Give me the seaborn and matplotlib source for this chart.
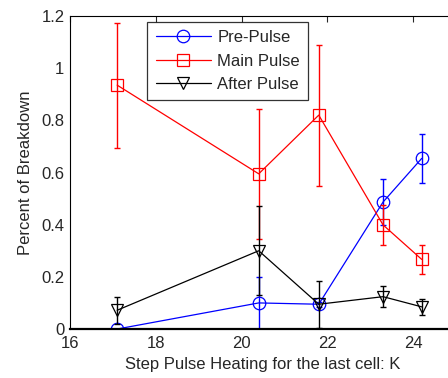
import numpy as np
import pandas as pd
import matplotlib
matplotlib.use("Agg")
import matplotlib.pyplot as plt
import seaborn as sns

# Step pulse heating (K) and breakdown fractions
heating = [17.1, 20.4, 21.8, 23.3, 24.2]

pre_pulse = [0.0, 0.10, 0.095, 0.487, 0.654]
pre_err = [0.0, 0.10, 0.01, 0.087, 0.095]

main_pulse = [0.935, 0.595, 0.82, 0.399, 0.267]
main_err = [0.24, 0.25, 0.27, 0.077, 0.057]

after_pulse = [0.072, 0.30, 0.095, 0.124, 0.085]
after_err = [0.052, 0.17, 0.09, 0.04, 0.03]

series = [
    ("Pre-Pulse", pre_pulse, pre_err, "#0000ff", "o"),
    ("Main Pulse", main_pulse, main_err, "#ff0000", "s"),
    ("After Pulse", after_pulse, after_err, "#000000", "v"),
]

sns.set_style("white", {"xtick.direction": "in", "ytick.direction": "in"})
plt.rcParams["font.family"] = ["Liberation Sans", "DejaVu Sans"]
plt.rcParams["xtick.top"] = True
plt.rcParams["ytick.right"] = True

fig = plt.figure(figsize=(4.48, 3.78), dpi=100)
# right edge of the axes sits just past the figure edge, as in the cropped original
ax = fig.add_axes([0.15625, 0.1296, 0.8616, 0.828])

for name, vals, errs, color, marker in series:
    df = pd.DataFrame({"K": heating, "val": vals})
    sns.lineplot(data=df, x="K", y="val", ax=ax, color=color, marker=marker,
                 markersize=9, markerfacecolor="none", markeredgecolor=color,
                 markeredgewidth=0.9, linewidth=0.9, label=name)
    ax.errorbar(heating, vals, yerr=errs, fmt="none", ecolor=color,
                elinewidth=1.0, capsize=2.5, capthick=1.0)

ax.set_xlim(16, 25)
ax.set_ylim(0, 1.2)
ax.set_xticks([16, 18, 20, 22, 24])
ax.set_yticks([0, 0.2, 0.4, 0.6, 0.8, 1.0, 1.2])
ax.set_yticklabels(["0", "0.2", "0.4", "0.6", "0.8", "1", "1.2"])
ax.tick_params(labelsize=12, length=4, width=0.8)
ax.tick_params(axis="x", pad=5)
ax.tick_params(axis="y", pad=4)
ax.set_xlabel("Step Pulse Heating for the last cell: K", fontsize=12, labelpad=4)
ax.set_ylabel("Percent of Breakdown", fontsize=12, labelpad=6)
for sp in ax.spines.values():
    sp.set_color("black")
    sp.set_linewidth(0.8)
ax.spines["bottom"].set_linewidth(1.6)

leg = ax.legend(loc="upper left", bbox_to_anchor=(0.2, 0.981), fontsize=12,
                frameon=True, fancybox=False, edgecolor="black",
                handlelength=3.3, borderpad=0.5, labelspacing=0.5,
                handletextpad=0.4, borderaxespad=0)
leg.get_frame().set_linewidth(0.9)

fig.savefig("out.png", dpi=100)
